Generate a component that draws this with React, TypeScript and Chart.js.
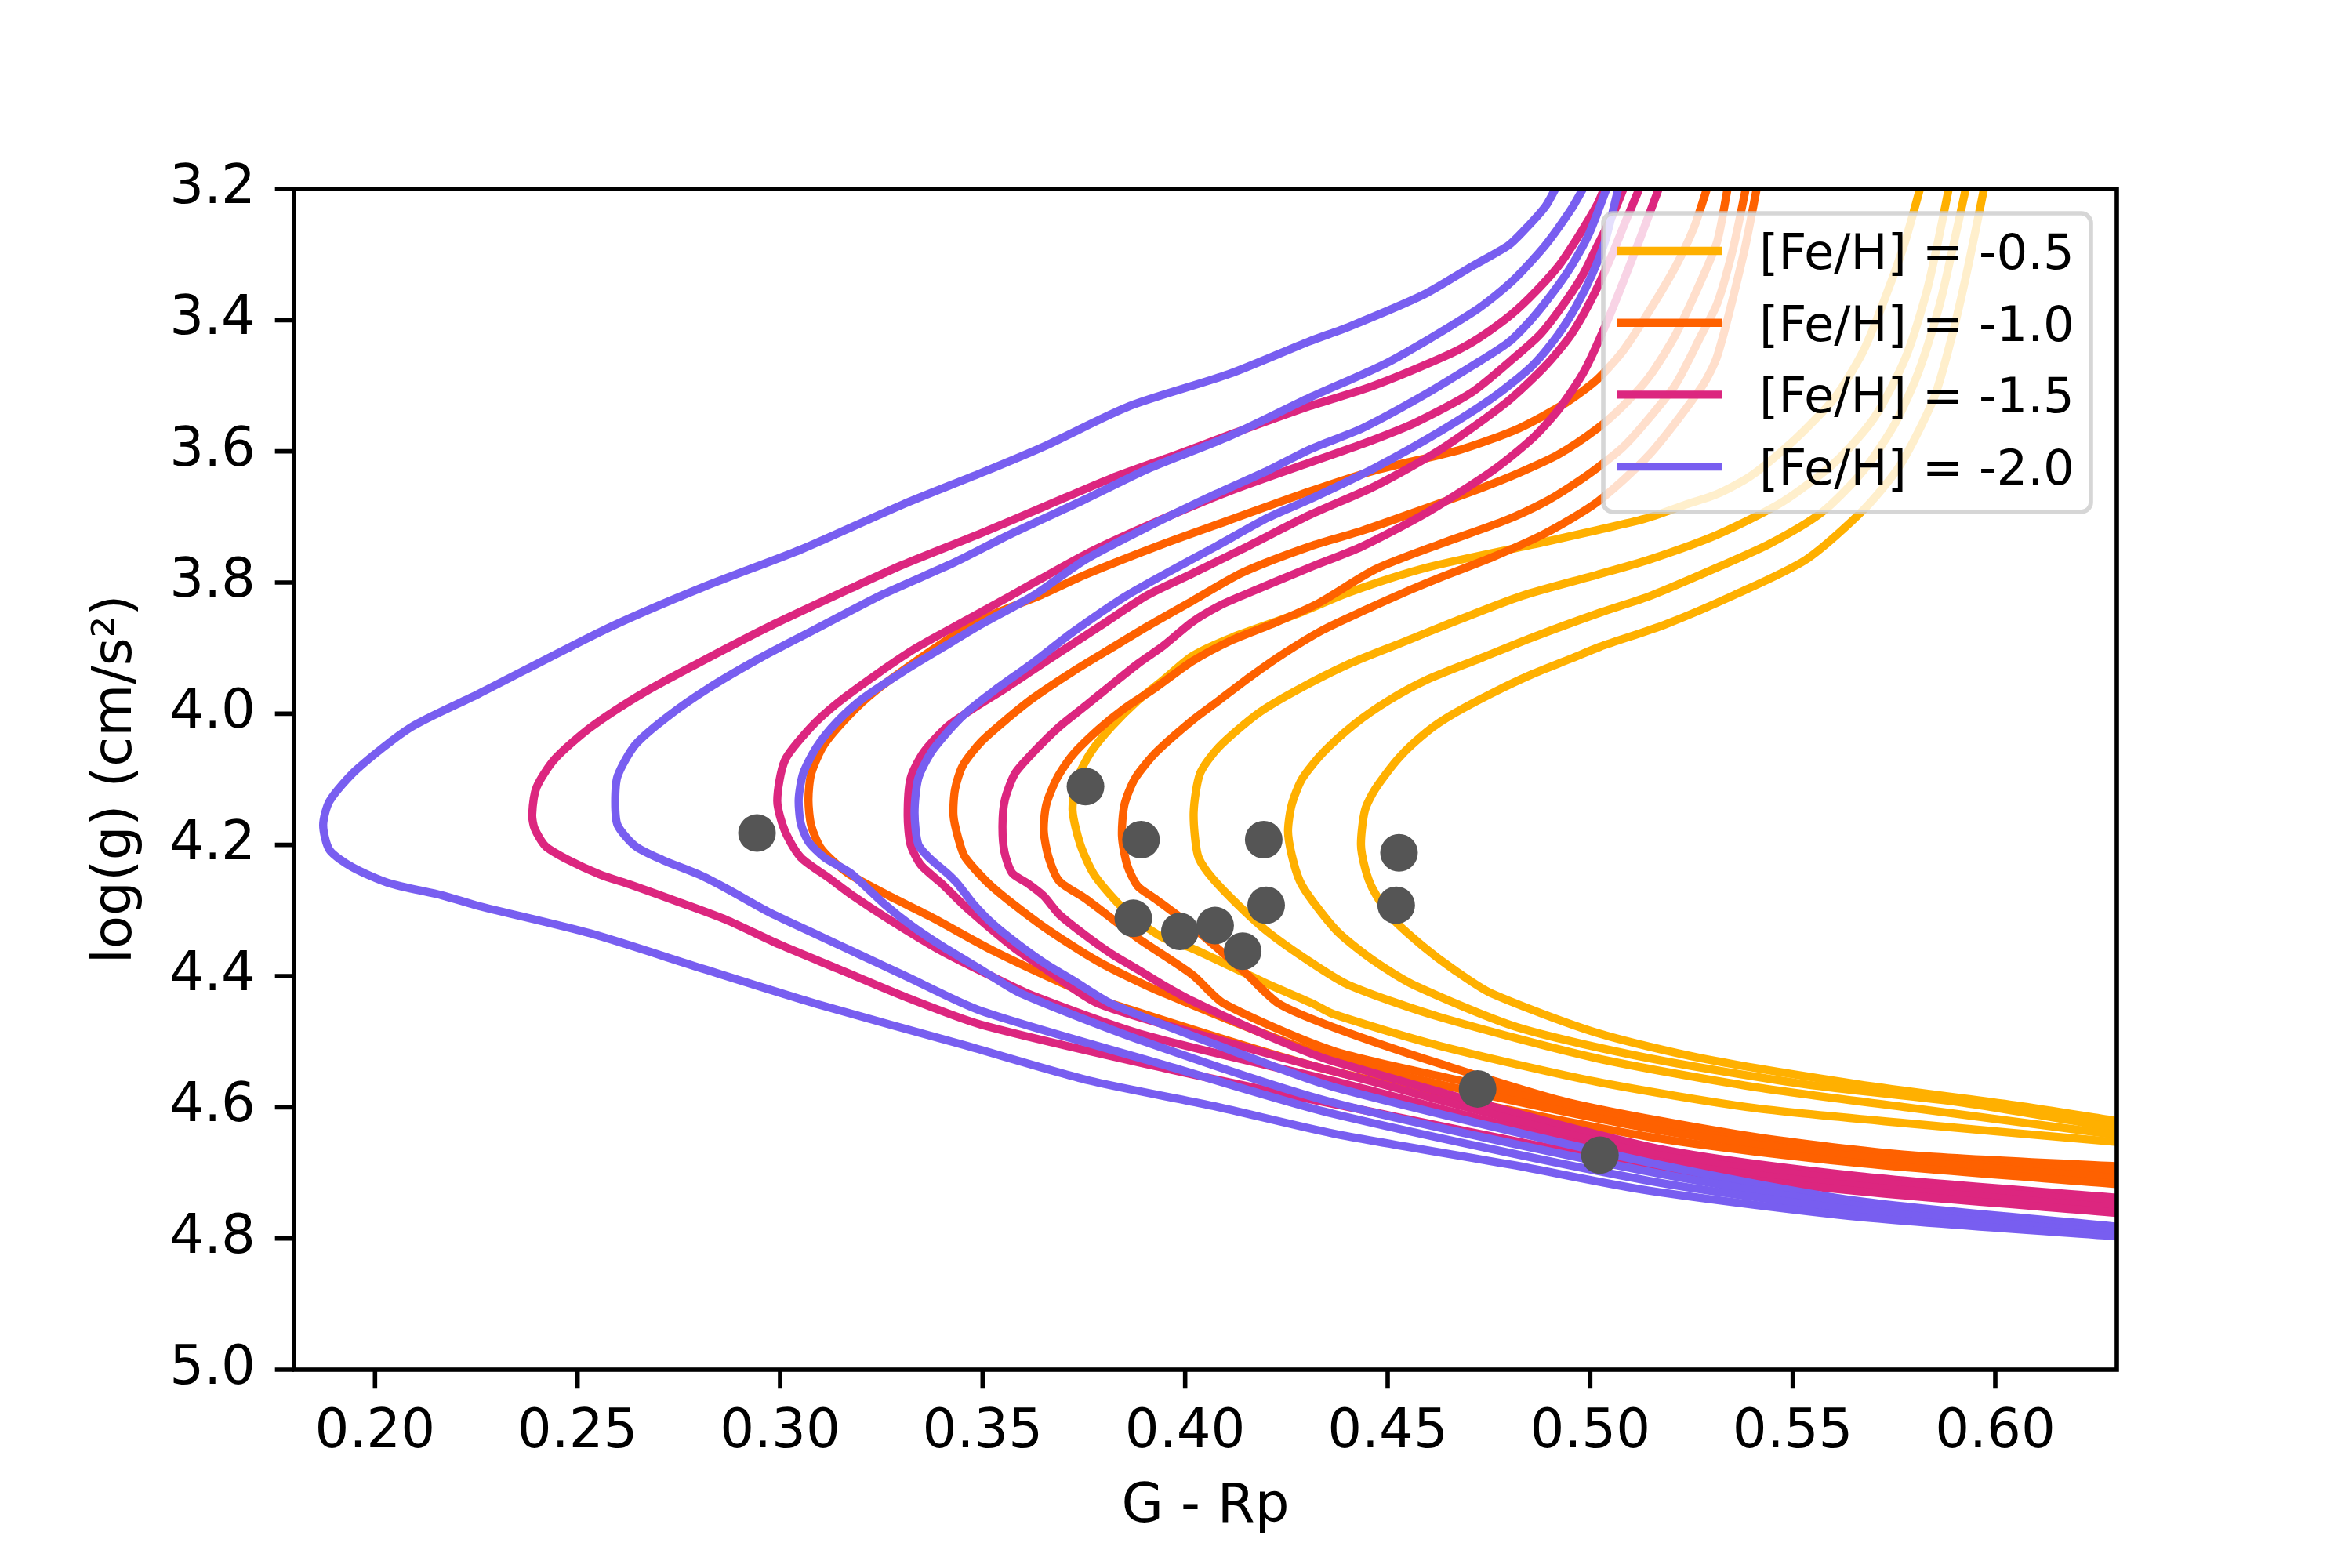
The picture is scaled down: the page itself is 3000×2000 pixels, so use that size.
import React, { useEffect, useRef } from "react";
import { Chart, registerables } from "chart.js";

Chart.register(...registerables);

// ---------- axis ticks ----------
const xTickValues = [0.2, 0.25, 0.3, 0.35, 0.4, 0.45, 0.5, 0.55, 0.6];
const yTickValues = [3.2, 3.4, 3.6, 3.8, 4.0, 4.2, 4.4, 4.6, 4.8, 5.0];

// ---------- legend ----------
const metallicityLabels = ["[Fe/H] = -0.5", "[Fe/H] = -1.0", "[Fe/H] = -1.5", "[Fe/H] = -2.0"];
const metallicityColors = ["#FFB000", "#FE6100", "#DC267F", "#785EF0"];

// ---------- observed stars (G - Rp, log g) ----------
const starColour = [0.2943, 0.3754, 0.3891, 0.4194, 0.4528, 0.3872, 0.3987, 0.4074, 0.4142, 0.42, 0.4521, 0.4722, 0.5024];
const starLogg = [4.182, 4.111, 4.192, 4.192, 4.212, 4.312, 4.332, 4.323, 4.362, 4.292, 4.292, 4.572, 4.673];

// ---------- isochrones [G - Rp, log g] ----------
// [Fe/H] = -0.5
const isoM05a = [[0.5814,3.2],[0.5778,3.279],[0.5733,3.358],[0.5675,3.446],[0.5604,3.518],[0.5507,3.581],[0.5398,3.637],[0.5314,3.665],[0.5237,3.681],[0.5134,3.703],[0.5018,3.72],[0.4889,3.738],[0.4598,3.777],[0.4405,3.815],[0.4276,3.848],[0.4115,3.884],[0.4018,3.912],[0.3947,3.948],[0.3883,3.98],[0.3818,4.02],[0.3767,4.059],[0.3734,4.099],[0.3722,4.147],[0.3741,4.199],[0.3773,4.243],[0.3818,4.278],[0.387,4.31],[0.3947,4.342],[0.4018,4.358],[0.4115,4.386],[0.4211,4.414],[0.4315,4.442],[0.4366,4.458],[0.4626,4.506],[0.5014,4.561],[0.5403,4.601],[0.5791,4.625],[0.63,4.653]];
const isoM05b = [[0.5885,3.2],[0.5859,3.279],[0.583,3.358],[0.5778,3.458],[0.5701,3.549],[0.5604,3.617],[0.5475,3.677],[0.5314,3.727],[0.5146,3.765],[0.5018,3.788],[0.4833,3.82],[0.4663,3.86],[0.4534,3.892],[0.4405,3.924],[0.4276,3.964],[0.4179,4.0],[0.4083,4.051],[0.4037,4.091],[0.4021,4.151],[0.4031,4.215],[0.4057,4.243],[0.4115,4.282],[0.4199,4.33],[0.4308,4.378],[0.4405,4.414],[0.4626,4.462],[0.5014,4.525],[0.5403,4.569],[0.5791,4.601],[0.63,4.642]];
const isoM05c = [[0.5927,3.2],[0.5895,3.29],[0.5862,3.378],[0.5811,3.478],[0.5753,3.557],[0.5675,3.629],[0.5572,3.693],[0.5443,3.741],[0.5314,3.777],[0.515,3.82],[0.5024,3.846],[0.4856,3.884],[0.4727,3.916],[0.4598,3.948],[0.4502,3.98],[0.4418,4.016],[0.4341,4.059],[0.4289,4.099],[0.4263,4.139],[0.4254,4.179],[0.4263,4.215],[0.4283,4.255],[0.4315,4.286],[0.4379,4.334],[0.4469,4.378],[0.4566,4.414],[0.482,4.478],[0.5144,4.525],[0.5532,4.565],[0.5921,4.593],[0.63,4.632]];
const isoM05d = [[0.5972,3.2],[0.5933,3.318],[0.5894,3.422],[0.5849,3.518],[0.5765,3.621],[0.5675,3.689],[0.5533,3.765],[0.5356,3.819],[0.5185,3.864],[0.5024,3.898],[0.4953,3.916],[0.4856,3.94],[0.476,3.968],[0.4663,4.0],[0.4598,4.027],[0.4528,4.067],[0.4469,4.115],[0.4444,4.147],[0.4434,4.199],[0.4444,4.235],[0.4463,4.267],[0.4508,4.31],[0.4586,4.354],[0.4663,4.39],[0.4755,4.426],[0.5014,4.486],[0.5273,4.525],[0.5662,4.565],[0.605,4.597],[0.63,4.621]];

// [Fe/H] = -1.0
const isoM10a = [[0.5288,3.2],[0.5256,3.259],[0.5211,3.318],[0.5146,3.386],[0.5082,3.446],[0.5018,3.49],[0.494,3.526],[0.4824,3.565],[0.4682,3.597],[0.4469,3.629],[0.4308,3.661],[0.4109,3.705],[0.3947,3.741],[0.3754,3.788],[0.3641,3.82],[0.3528,3.848],[0.3432,3.88],[0.3335,3.92],[0.3238,3.964],[0.3174,4.0],[0.3109,4.047],[0.3077,4.091],[0.307,4.131],[0.3077,4.171],[0.3103,4.207],[0.3167,4.243],[0.327,4.278],[0.3373,4.31],[0.3528,4.362],[0.3722,4.418],[0.3818,4.442],[0.4366,4.545],[0.5144,4.645],[0.5662,4.685],[0.63,4.717]];
const isoM10b = [[0.5339,3.2],[0.5314,3.279],[0.5275,3.338],[0.5211,3.422],[0.5146,3.486],[0.5082,3.53],[0.5018,3.565],[0.4921,3.605],[0.4824,3.633],[0.4727,3.657],[0.4566,3.693],[0.4437,3.721],[0.4308,3.745],[0.4141,3.785],[0.4018,3.828],[0.3915,3.864],[0.3818,3.9],[0.3722,3.936],[0.3625,3.976],[0.356,4.008],[0.3496,4.043],[0.3451,4.079],[0.3432,4.115],[0.3428,4.155],[0.344,4.19],[0.3457,4.219],[0.3522,4.263],[0.3644,4.322],[0.3786,4.378],[0.3947,4.426],[0.4366,4.525],[0.5144,4.632],[0.5662,4.675],[0.63,4.708]];
const isoM10c = [[0.5384,3.2],[0.5353,3.29],[0.5314,3.374],[0.5275,3.422],[0.5211,3.498],[0.5146,3.549],[0.5082,3.593],[0.5018,3.625],[0.4953,3.653],[0.4889,3.677],[0.4792,3.705],[0.4631,3.741],[0.4469,3.78],[0.4328,3.832],[0.4212,3.864],[0.4115,3.888],[0.4018,3.92],[0.3928,3.96],[0.385,3.992],[0.3786,4.024],[0.3722,4.063],[0.3683,4.099],[0.3657,4.139],[0.3651,4.179],[0.3663,4.219],[0.3689,4.255],[0.3754,4.282],[0.3883,4.342],[0.4018,4.398],[0.4096,4.442],[0.4366,4.514],[0.469,4.561],[0.5014,4.609],[0.5403,4.653],[0.5791,4.681],[0.63,4.699]];
const isoM10d = [[0.5411,3.2],[0.5379,3.298],[0.5314,3.454],[0.5275,3.502],[0.5146,3.605],[0.5018,3.677],[0.4889,3.725],[0.476,3.761],[0.4631,3.792],[0.4553,3.812],[0.4437,3.844],[0.4341,3.872],[0.4244,3.908],[0.416,3.944],[0.4083,3.98],[0.4018,4.01],[0.3928,4.059],[0.3876,4.099],[0.385,4.139],[0.3844,4.187],[0.3857,4.231],[0.3883,4.263],[0.3928,4.283],[0.4018,4.325],[0.4147,4.394],[0.4231,4.442],[0.4366,4.478],[0.4626,4.533],[0.4949,4.593],[0.5403,4.645],[0.5791,4.673],[0.63,4.69]];

// [Fe/H] = -1.5
const isoM15a = [[0.5034,3.2],[0.5018,3.223],[0.4972,3.271],[0.4921,3.318],[0.485,3.366],[0.4792,3.398],[0.4708,3.434],[0.4631,3.458],[0.4457,3.502],[0.4308,3.531],[0.4109,3.575],[0.3979,3.605],[0.3818,3.641],[0.3657,3.683],[0.3496,3.725],[0.3303,3.773],[0.3199,3.802],[0.2977,3.866],[0.281,3.919],[0.2666,3.967],[0.2532,4.021],[0.2444,4.069],[0.2399,4.112],[0.2388,4.154],[0.2394,4.175],[0.2421,4.202],[0.2477,4.223],[0.2555,4.245],[0.2632,4.261],[0.2754,4.288],[0.2866,4.314],[0.2999,4.352],[0.3143,4.389],[0.331,4.432],[0.3496,4.474],[0.3946,4.54],[0.4366,4.595],[0.5144,4.69],[0.5662,4.728],[0.63,4.761]];
const isoM15b = [[0.5082,3.2],[0.5056,3.239],[0.5018,3.286],[0.4979,3.334],[0.4927,3.382],[0.4876,3.422],[0.4811,3.458],[0.4708,3.51],[0.4566,3.557],[0.4437,3.589],[0.4308,3.617],[0.4109,3.661],[0.3915,3.711],[0.3754,3.757],[0.357,3.82],[0.3464,3.856],[0.3335,3.9],[0.3238,3.94],[0.3141,3.984],[0.3077,4.02],[0.3012,4.071],[0.2993,4.133],[0.3012,4.179],[0.3051,4.219],[0.3122,4.251],[0.3174,4.275],[0.327,4.314],[0.3399,4.362],[0.3528,4.402],[0.3625,4.43],[0.39,4.49],[0.4366,4.56],[0.5144,4.68],[0.5662,4.72],[0.63,4.753]];
const isoM15c = [[0.5121,3.2],[0.5089,3.247],[0.505,3.306],[0.5005,3.366],[0.4953,3.422],[0.4889,3.47],[0.4792,3.526],[0.4631,3.597],[0.4469,3.653],[0.4308,3.697],[0.4141,3.749],[0.4012,3.788],[0.3905,3.82],[0.3786,3.868],[0.3657,3.92],[0.356,3.96],[0.3477,3.992],[0.3412,4.02],[0.3354,4.059],[0.3322,4.099],[0.3315,4.155],[0.3322,4.199],[0.3348,4.231],[0.3399,4.259],[0.3464,4.298],[0.358,4.358],[0.3657,4.39],[0.3786,4.442],[0.41,4.5],[0.4366,4.545],[0.5144,4.67],[0.5662,4.712],[0.63,4.745]];
const isoM15d = [[0.5169,3.2],[0.5121,3.279],[0.505,3.39],[0.4985,3.478],[0.4921,3.537],[0.4856,3.581],[0.476,3.629],[0.4598,3.693],[0.4437,3.745],[0.4308,3.777],[0.4141,3.82],[0.4083,3.836],[0.4018,3.86],[0.3947,3.896],[0.3883,3.924],[0.3818,3.956],[0.3754,3.988],[0.3689,4.02],[0.3625,4.059],[0.358,4.091],[0.3555,4.131],[0.3549,4.171],[0.3554,4.211],[0.3573,4.243],[0.3612,4.259],[0.3651,4.278],[0.3689,4.306],[0.3754,4.338],[0.3818,4.366],[0.3883,4.39],[0.3947,4.414],[0.4018,4.438],[0.42,4.49],[0.4366,4.53],[0.5144,4.66],[0.5662,4.705],[0.63,4.738]];

// [Fe/H] = -2.0
const isoM20a = [[0.4914,3.2],[0.4889,3.227],[0.4837,3.263],[0.4798,3.286],[0.4708,3.318],[0.4586,3.362],[0.4405,3.41],[0.4308,3.432],[0.4109,3.482],[0.3863,3.531],[0.3657,3.591],[0.3496,3.633],[0.3303,3.681],[0.3054,3.749],[0.281,3.807],[0.2577,3.869],[0.2255,3.97],[0.2088,4.021],[0.1955,4.085],[0.1888,4.133],[0.1872,4.17],[0.1888,4.208],[0.1944,4.234],[0.2033,4.258],[0.2166,4.277],[0.2255,4.293],[0.2532,4.335],[0.281,4.389],[0.3088,4.442],[0.3453,4.505],[0.3761,4.559],[0.4069,4.598],[0.4366,4.64],[0.4809,4.688],[0.5144,4.727],[0.5662,4.767],[0.63,4.797]];
const isoM20b = [[0.4982,3.2],[0.4953,3.231],[0.4889,3.286],[0.4805,3.342],[0.4715,3.386],[0.4502,3.464],[0.4308,3.518],[0.4109,3.577],[0.3915,3.625],[0.3754,3.673],[0.3573,3.725],[0.3432,3.769],[0.3254,3.818],[0.3088,3.871],[0.2954,3.914],[0.2821,3.962],[0.2721,4.005],[0.2643,4.047],[0.2599,4.095],[0.2593,4.135],[0.2599,4.17],[0.2643,4.202],[0.271,4.223],[0.2799,4.245],[0.2866,4.266],[0.2977,4.304],[0.3088,4.336],[0.3199,4.368],[0.331,4.4],[0.3496,4.453],[0.3946,4.535],[0.4366,4.61],[0.5144,4.712],[0.5662,4.757],[0.63,4.792]];
const isoM20c = [[0.504,3.2],[0.4998,3.267],[0.4953,3.318],[0.4908,3.358],[0.4856,3.398],[0.4798,3.434],[0.4708,3.47],[0.4579,3.518],[0.4437,3.565],[0.4308,3.597],[0.4205,3.629],[0.4076,3.665],[0.3915,3.713],[0.3754,3.765],[0.3625,3.82],[0.3496,3.864],[0.3399,3.9],[0.3303,3.936],[0.3206,3.976],[0.3141,4.012],[0.309,4.051],[0.3057,4.091],[0.3046,4.13],[0.3051,4.167],[0.307,4.195],[0.3109,4.219],[0.3174,4.243],[0.3257,4.29],[0.3322,4.322],[0.3399,4.354],[0.3496,4.39],[0.3593,4.426],[0.39,4.5],[0.4366,4.593],[0.5144,4.698],[0.5662,4.75],[0.63,4.787]];
const isoM20d = [[0.5069,3.2],[0.5037,3.279],[0.5005,3.33],[0.4966,3.378],[0.4921,3.422],[0.4856,3.47],[0.476,3.518],[0.4631,3.569],[0.4469,3.625],[0.4308,3.673],[0.4205,3.701],[0.4076,3.745],[0.3947,3.788],[0.385,3.822],[0.3722,3.876],[0.3625,3.922],[0.3528,3.965],[0.3464,3.996],[0.3425,4.02],[0.3373,4.059],[0.3341,4.099],[0.3332,4.151],[0.3341,4.199],[0.3367,4.219],[0.3412,4.243],[0.3438,4.259],[0.3477,4.29],[0.3528,4.322],[0.3593,4.354],[0.3657,4.382],[0.3722,4.406],[0.3818,4.442],[0.41,4.51],[0.4366,4.569],[0.5144,4.684],[0.5662,4.743],[0.63,4.782]];

const familyCurves = [
  [isoM05a, isoM05b, isoM05c, isoM05d],
  [isoM10a, isoM10b, isoM10c, isoM10d],
  [isoM15a, isoM15b, isoM15c, isoM15d],
  [isoM20a, isoM20b, isoM20c, isoM20d],
];

// ---------- layout (pixels) ----------
const W = 3000;
const H = 2000;
const PLOT = { left: 375, top: 241, right: 2700, bottom: 1747 };
const LW = 10.4; // 1.5pt at 500 dpi
const SPINE = 5.6; // 0.8pt
const TICK_LEN = 24.3;
const FONT = '"DejaVu Sans"';

const framePlugin = {
  id: "mplFrame",
  afterDatasetsDraw(chart: any) {
    const { ctx, chartArea: a, scales } = chart;
    ctx.save();
    // ticks
    ctx.strokeStyle = "#000";
    ctx.lineWidth = SPINE;
    ctx.lineCap = "butt";
    ctx.beginPath();
    for (const v of xTickValues) {
      const px = scales.x.getPixelForValue(v);
      ctx.moveTo(px, a.bottom);
      ctx.lineTo(px, a.bottom + TICK_LEN);
    }
    for (const v of yTickValues) {
      const py = scales.y.getPixelForValue(v);
      ctx.moveTo(a.left, py);
      ctx.lineTo(a.left - TICK_LEN, py);
    }
    ctx.stroke();
    // spines
    ctx.lineJoin = "miter";
    ctx.strokeRect(a.left, a.top, a.right - a.left, a.bottom - a.top);

    // legend
    const lx = 2045, ly = 272, lw = 622, lh = 381, r = 12.5;
    ctx.beginPath();
    ctx.moveTo(lx + r, ly);
    ctx.lineTo(lx + lw - r, ly);
    ctx.arcTo(lx + lw, ly, lx + lw, ly + r, r);
    ctx.lineTo(lx + lw, ly + lh - r);
    ctx.arcTo(lx + lw, ly + lh, lx + lw - r, ly + lh, r);
    ctx.lineTo(lx + r, ly + lh);
    ctx.arcTo(lx, ly + lh, lx, ly + lh - r, r);
    ctx.lineTo(lx, ly + r);
    ctx.arcTo(lx, ly, lx + r, ly, r);
    ctx.closePath();
    ctx.fillStyle = "rgba(255,255,255,0.8)";
    ctx.fill();
    ctx.lineWidth = 5.6;
    ctx.strokeStyle = "rgba(204,204,204,0.8)";
    ctx.stroke();

    ctx.font = `62.5px ${FONT}`;
    ctx.textBaseline = "alphabetic";
    ctx.textAlign = "left";
    metallicityLabels.forEach((label, i) => {
      const cy = 320 + i * 91.7;
      ctx.beginPath();
      ctx.strokeStyle = metallicityColors[i];
      ctx.lineWidth = LW;
      ctx.lineCap = "butt";
      ctx.moveTo(2062, cy);
      ctx.lineTo(2197, cy);
      ctx.stroke();
      ctx.fillStyle = "#000";
      ctx.fillText(label, 2244, cy + 22.8);
    });
    ctx.restore();
  },
};

function buildDatasets() {
  const sets: any[] = [];
  const orders = [4, 3, 2, 1];
  familyCurves.forEach((curves, fi) => {
    curves.forEach((pts) => {
      sets.push({
        label: metallicityLabels[fi],
        data: pts.map(([x, y]) => ({ x, y })),
        showLine: true,
        borderColor: metallicityColors[fi],
        backgroundColor: metallicityColors[fi],
        borderWidth: LW,
        pointRadius: 0,
        pointHoverRadius: 0,
        tension: 0.25,
        fill: false,
        clip: 0,
        borderJoinStyle: "round",
        borderCapStyle: "round",
        order: orders[fi],
      });
    });
  });
  sets.push({
    label: "stars",
    data: starColour.map((x, i) => ({ x, y: starLogg[i] })),
    showLine: false,
    pointRadius: 24,
    pointHoverRadius: 24,
    pointBackgroundColor: "#555555",
    pointBorderColor: "#555555",
    pointBorderWidth: 0,
    order: 0,
  });
  return sets;
}

export default function App() {
  const ref = useRef<HTMLCanvasElement | null>(null);
  useEffect(() => {
    document.body.style.margin = "0";
    const canvas = ref.current;
    if (!canvas) return;
    const chart = new Chart(canvas, {
      type: "scatter",
      data: { datasets: buildDatasets() },
      options: {
        responsive: false,
        maintainAspectRatio: false,
        devicePixelRatio: 1,
        animation: false,
        events: [],
        layout: { padding: { left: 0, top: PLOT.top, right: W - PLOT.right, bottom: 0 } },
        plugins: { legend: { display: false }, tooltip: { enabled: false }, title: { display: false } },
        scales: {
          x: {
            type: "linear",
            min: 0.18,
            max: 0.63,
            afterBuildTicks: (s: any) => {
              s.ticks = xTickValues.map((v) => ({ value: v }));
            },
            afterFit: (s: any) => {
              s.height = H - PLOT.bottom;
            },
            ticks: {
              autoSkip: false,
              maxRotation: 0,
              minRotation: 0,
              padding: 40,
              color: "#000",
              font: { family: FONT, size: 69 },
              callback: (v: any) => Number(v).toFixed(2),
            },
            grid: { display: false, drawTicks: false },
            border: { display: false },
            title: {
              display: true,
              text: "G - Rp",
              color: "#000",
              font: { family: FONT, size: 69 },
              padding: { top: 0, bottom: 36 },
            },
          },
          y: {
            type: "linear",
            reverse: true,
            min: 3.2,
            max: 5.0,
            afterBuildTicks: (s: any) => {
              s.ticks = yTickValues.map((v) => ({ value: v }));
            },
            afterFit: (s: any) => {
              s.width = PLOT.left;
            },
            ticks: {
              autoSkip: false,
              padding: 49,
              color: "#000",
              font: { family: FONT, size: 69 },
              callback: (v: any) => Number(v).toFixed(1),
            },
            grid: { display: false, drawTicks: false },
            border: { display: false },
            title: {
              display: true,
              text: "log(g) (cm/s²)",
              color: "#000",
              font: { family: FONT, size: 69 },
              padding: { top: 108, bottom: 0 },
            },
          },
        },
      } as any,
      plugins: [framePlugin],
    });
    return () => chart.destroy();
  }, []);
  return (
    <canvas
      ref={ref}
      width={W}
      height={H}
      style={{ display: "block", width: `${W}px`, height: `${H}px` }}
    />
  );
}
